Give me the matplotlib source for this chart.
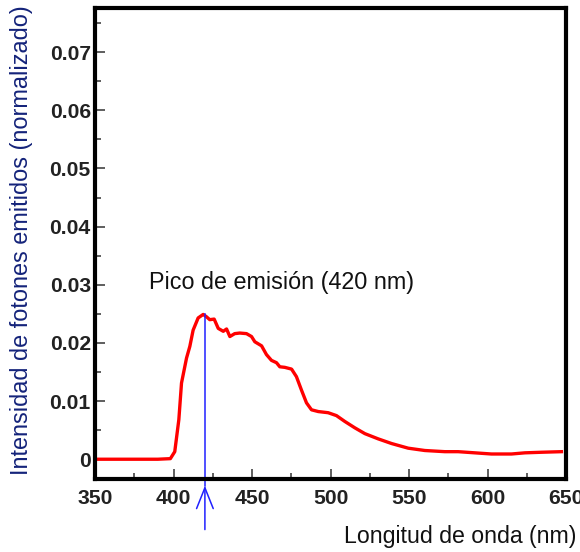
import numpy as np
import matplotlib.pyplot as plt
from matplotlib.ticker import MultipleLocator, FuncFormatter

# espectro de emision
wavelength = [350, 370, 390, 398, 400.8, 403.4, 405.1, 408.3, 410.4, 412.5, 415.7, 418.9,
              421, 423.1, 425.9, 428.5, 431.7, 433.8, 435.9, 439, 442.2, 446.5, 449.7,
              451.8, 456.1, 459.2, 462.4, 465.6, 467.7, 470.9, 475.2, 478.3, 481.5,
              484.7, 487.9, 492.2, 498.5, 503.8, 509.1, 515.5, 521.9, 530.4, 538.9,
              549.5, 560.1, 572.8, 581.3, 591.9, 602.5, 615.3, 623.8, 634.4, 647.1]
intensity = [0.0, 0.0, 0.0, 0.0001, 0.0013, 0.0068, 0.0131, 0.0174, 0.0194, 0.0222, 0.0243, 0.0249,
             0.0245, 0.0240, 0.0241, 0.0225, 0.0220, 0.0224, 0.0211, 0.0216, 0.0217, 0.0216, 0.0211,
             0.0202, 0.0195, 0.0180, 0.0170, 0.0166, 0.0159, 0.0158, 0.0155, 0.0142, 0.0119,
             0.0097, 0.0085, 0.0082, 0.0080, 0.0075, 0.0065, 0.0054, 0.0044, 0.0035, 0.0027,
             0.0019, 0.0015, 0.0013, 0.0013, 0.0011, 0.0009, 0.0009, 0.0011, 0.0012, 0.0013]
peak_nm = 420
peak_val = 0.0249

plt.rcParams['font.family'] = ['Liberation Sans', 'DejaVu Sans']

W, H = 580, 552
fig = plt.figure(figsize=(W / 100, H / 100), dpi=100)
ax = fig.add_axes([95 / W, 1 - 479 / H, (566 - 95) / W, (479 - 8) / H])

ax.plot(wavelength, intensity, color='#ff0000', lw=2.4, solid_joinstyle='round')

# linea del pico y flecha
ax.plot([peak_nm, peak_nm], [-0.00455, peak_val], color='#2020ff', lw=1.1, clip_on=False)
ax.annotate('', xy=(peak_nm, -0.00455), xytext=(peak_nm, -0.0121),
            arrowprops=dict(arrowstyle='->,head_length=0.75,head_width=0.3',
                            color='#2020ff', lw=1.1, mutation_scale=20,
                            shrinkA=0, shrinkB=0),
            annotation_clip=False)
ax.text(384.5, 0.0304, 'Pico de emisión (420 nm)', fontsize=16.8, color='#111111',
        va='center', ha='left')

ax.set_xlim(350, 650)
ax.set_ylim(-0.0034, 0.0776)
ax.xaxis.set_major_locator(MultipleLocator(50))
ax.xaxis.set_minor_locator(MultipleLocator(25))
ax.yaxis.set_major_locator(MultipleLocator(0.01))
ax.yaxis.set_minor_locator(MultipleLocator(0.005))
ax.yaxis.set_major_formatter(FuncFormatter(lambda v, p: '0' if abs(v) < 1e-9 else f'{v:.2f}'))

ax.tick_params(which='major', direction='in', length=7.5, width=1.1, color='#333333',
               labelsize=15.2, labelcolor='#222222')
ax.tick_params(which='minor', direction='in', length=4.5, width=1.1, color='#333333')
ax.tick_params(axis='x', which='both', top=False, pad=7)
ax.tick_params(axis='y', which='both', right=False, pad=3)
for lab in ax.get_xticklabels() + ax.get_yticklabels():
    lab.set_fontweight('bold')

for s in ax.spines.values():
    s.set_linewidth(3)
    s.set_color('black')

fig.text(22 / W, 1 - 240 / H, 'Intensidad de fotones emitidos (normalizado)',
         rotation=90, ha='center', va='center', fontsize=16.9, color='#14237a')
fig.text(576 / W, 1 - 536 / H, 'Longitud de onda (nm)', ha='right', va='center',
         fontsize=16.7, color='#111111')

fig.savefig('out.png', dpi=100)
